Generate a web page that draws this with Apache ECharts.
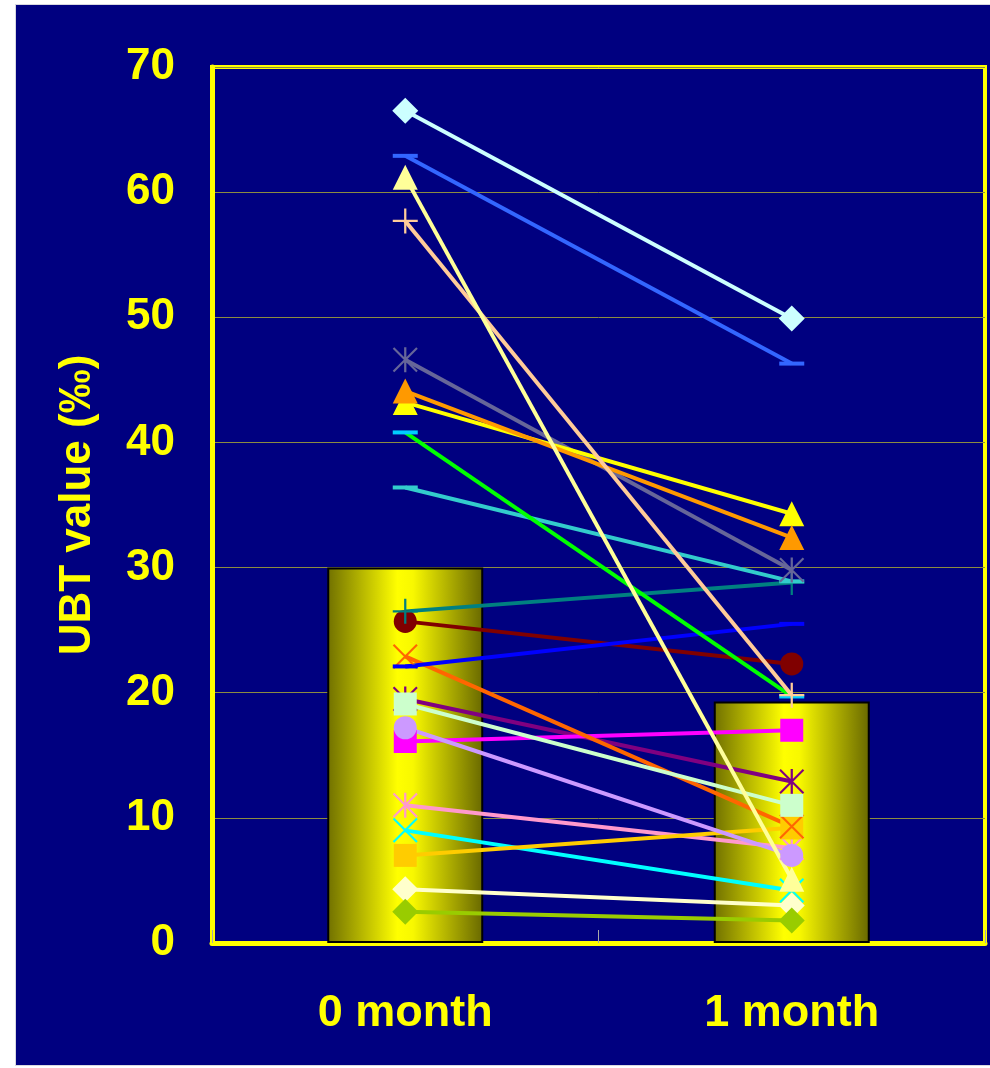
<!DOCTYPE html>
<html>
<head>
<meta charset="utf-8">
<script src="https://cdn.jsdelivr.net/npm/echarts@6/dist/echarts.min.js"></script>
<style>
html,body{margin:0;padding:0;background:#ffffff;width:990px;height:1068px;overflow:hidden;}
#frame{position:absolute;left:15px;top:4px;width:975px;height:1062px;background:#d8d8e0;}
#chart{position:absolute;left:16px;top:5px;width:974px;height:1060px;background:#000080;}
</style>
</head>
<body>
<div id="frame"></div>
<div id="chart"></div>
<script>
// ---- data ----
const categories = ['0 month', '1 month'];
const yTicks = [0, 10, 20, 30, 40, 50, 60, 70];
const meanValues = [30.0, 19.3];

const p01 = [66.5, 49.9];
const p02 = [62.9, 46.3];
const p03 = [61.2, 5.1];
const p04 = [57.7, 19.8];
const p05 = [46.6, 29.8];
const p06 = [44.1, 32.4];
const p07 = [43.2, 34.3];
const p08 = [40.8, 19.7];
const p09 = [36.4, 28.9];
const p10 = [26.5, 28.8];
const p11 = [25.7, 22.3];
const p12 = [22.9, 9.3];
const p13 = [22.1, 25.5];
const p14 = [19.5, 12.9];
const p15 = [19.1, 11.0];
const p16 = [17.2, 7.0];
const p17 = [16.1, 17.0];
const p18 = [11.0, 7.6];
const p19 = [9.0, 4.2];
const p20 = [7.0, 9.2];
const p21 = [4.3, 3.0];
const p22 = [2.5, 1.8];

// ---- styles ----
const DASH = 'path://M0,0 L10,0 L10,1 L0,1 Z';
const PLUS = 'path://M4.55,0 L5.45,0 L5.45,10 L4.55,10 Z M0,4.55 L10,4.55 L10,5.45 L0,5.45 Z';
const XMARK = 'path://M0,0.6 L0.6,0 L10,9.4 L9.4,10 Z M9.4,0 L10,0.6 L0.6,10 L0,9.4 Z';
const STAR = 'path://M0,0.6 L0.6,0 L10,9.4 L9.4,10 Z M9.4,0 L10,0.6 L0.6,10 L0,9.4 Z M4.55,0 L5.45,0 L5.45,10 L4.55,10 Z';

// drawing order (bottom first): [data, markerColor, lineColor, symbol, size]
const seriesDefs = [
  [p14, '#800080', '#800080', STAR, 25],
  [p18, '#ff99cc', '#ff99cc', STAR, 25],
  [p19, '#00ffff', '#00ffff', XMARK, 25],
  [p17, '#ff00ff', '#ff00ff', 'rect', 23],
  [p20, '#ffcc00', '#ffcc00', 'rect', 23],
  [p11, '#800000', '#800000', 'circle', 23],
  [p10, '#008080', '#008080', PLUS, 25],
  [p12, '#ff6600', '#ff6600', XMARK, 25],
  [p13, '#0000ff', '#0000ff', DASH, [25, 4]],
  [p15, '#ccffcc', '#ccffcc', 'rect', 23],
  [p16, '#cc99ff', '#cc99ff', 'circle', 23],
  [p21, '#ffffcc', '#ffffcc', 'diamond', 26],
  [p22, '#99cc00', '#99cc00', 'diamond', 26],
  [p09, '#33cccc', '#33cccc', DASH, [25, 4]],
  [p08, '#00ccff', '#00ff00', DASH, [25, 4]],
  [p05, '#666699', '#666699', STAR, 25],
  [p07, '#ffff00', '#ffff00', 'triangle', 25],
  [p06, '#ff9900', '#ff9900', 'triangle', 25],
  [p04, '#ffcc99', '#ffcc99', PLUS, 25],
  [p02, '#3366ff', '#3366ff', DASH, [25, 4]],
  [p01, '#ccffff', '#ccffff', 'diamond', 26],
  [p03, '#ffff99', '#ffff99', 'triangle', 25]
];

const FONT = '"Liberation Sans", Arial, sans-serif';
const chart = echarts.init(document.getElementById('chart'), null, {renderer: 'canvas'});

const series = [{
  type: 'bar',
  data: meanValues,
  barWidth: 156,
  silent: true,
  z: 1,
  itemStyle: {
    borderColor: '#000000',
    borderWidth: 2,
    color: new echarts.graphic.LinearGradient(0, 0, 1, 0, [
      {offset: 0, color: '#707000'},
      {offset: 0.45, color: '#ffff00'},
      {offset: 0.55, color: '#f8f800'},
      {offset: 1, color: '#686800'}
    ])
  }
}];
seriesDefs.forEach(function (d) {
  series.push({
    type: 'line',
    data: d[0],
    symbol: d[3],
    symbolSize: d[4],
    showSymbol: true,
    z: 2,
    lineStyle: {color: d[2], width: 4},
    itemStyle: {color: d[1], borderWidth: 0, opacity: 1},
    emphasis: {disabled: true}
  });
});

chart.setOption({
  animation: false,
  backgroundColor: '#000080',
  grid: {
    left: 196, top: 62, right: 5, bottom: 122,
    show: true, borderColor: '#ffff00', borderWidth: 4, backgroundColor: 'transparent'
  },
  xAxis: {
    type: 'category',
    data: categories,
    boundaryGap: true,
    axisLine: {show: true, lineStyle: {color: '#ffff00', width: 5}},
    axisTick: {show: true, inside: true, length: 13, lineStyle: {color: '#a8a8a8', width: 1}},
    axisLabel: {color: '#ffff00', fontSize: 45, fontWeight: 'bold', fontFamily: FONT, margin: 48},
    splitLine: {show: false}
  },
  yAxis: {
    type: 'value',
    min: 0, max: 70, interval: 10,
    name: 'UBT value (‰)',
    nameLocation: 'middle',
    nameGap: 112,
    nameRotate: 90,
    nameTextStyle: {color: '#ffff00', fontSize: 44, fontWeight: 'bold', fontFamily: FONT},
    axisLine: {show: true, lineStyle: {color: '#ffff00', width: 5}},
    axisTick: {show: false},
    axisLabel: {
      color: '#ffff00', fontSize: 44, fontWeight: 'bold', fontFamily: FONT, margin: 37,
      formatter: function (v) { return yTicks.indexOf(v) >= 0 ? String(v) : ''; }
    },
    splitLine: {show: true, lineStyle: {color: '#8c8c40', width: 1}}
  },
  series: series
});
</script>
</body>
</html>
